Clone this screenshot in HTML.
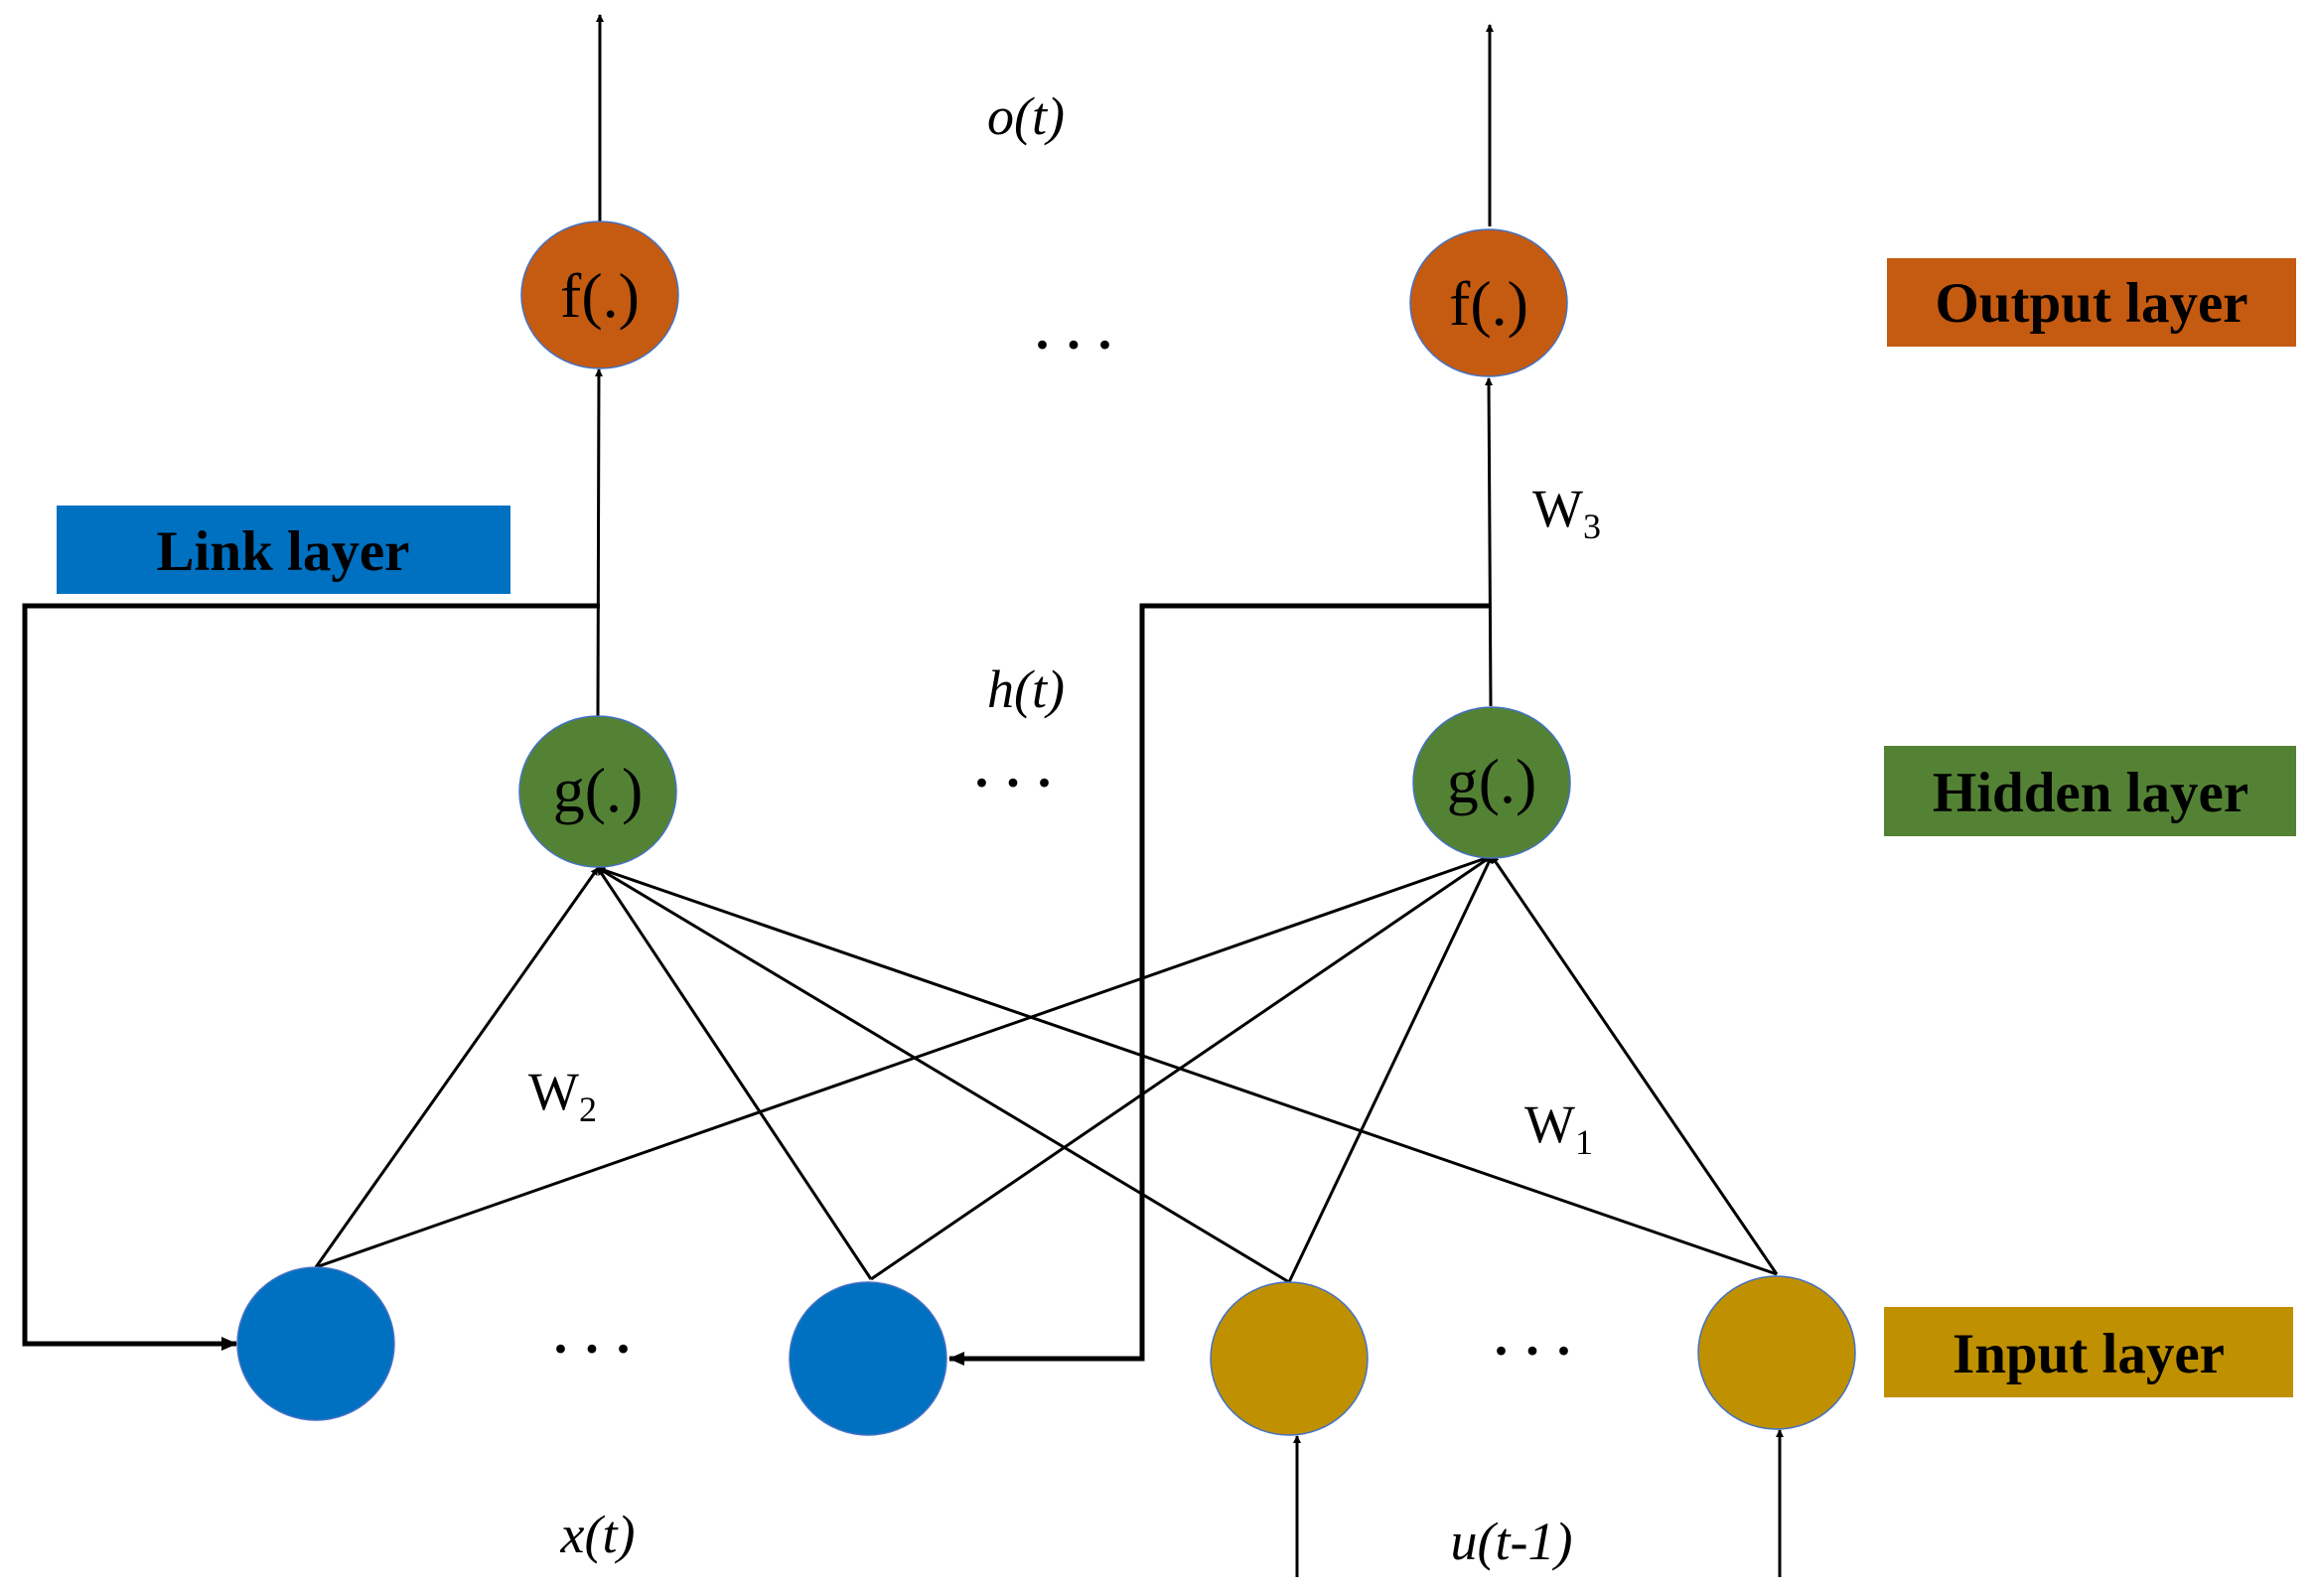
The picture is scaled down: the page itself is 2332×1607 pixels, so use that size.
<!DOCTYPE html>
<html><head><meta charset="utf-8"><style>
html,body{margin:0;padding:0;background:#fff}
svg{display:block}
text{font-family:"Liberation Serif",serif}
</style></head><body>
<svg width="2332" height="1607" viewBox="0 0 2332 1607" xmlns="http://www.w3.org/2000/svg">
<defs>
<marker id="a" markerWidth="8" markerHeight="8" refX="7" refY="4" orient="auto" markerUnits="userSpaceOnUse"><path d="M0,0 L8,4 L0,8 z" fill="#000"/></marker>
<marker id="b" markerWidth="16" markerHeight="14" refX="15" refY="7" orient="auto" markerUnits="userSpaceOnUse"><path d="M0,0 L16,7 L0,14 z" fill="#000"/></marker>
</defs>
<g stroke="#000" stroke-width="3" fill="none">
<line x1="604" y1="223" x2="604" y2="15" marker-end="url(#a)"/>
<line x1="1500" y1="228" x2="1500" y2="25" marker-end="url(#a)"/>
<line x1="602" y1="721" x2="603" y2="372" marker-end="url(#a)"/>
<line x1="1501" y1="711" x2="1499" y2="381" marker-end="url(#a)"/>
<line x1="318" y1="1276" x2="602" y2="874" marker-end="url(#a)"/>
<line x1="318" y1="1276" x2="1502" y2="862" marker-end="url(#a)"/>
<line x1="877" y1="1288" x2="602" y2="874" marker-end="url(#a)"/>
<line x1="877" y1="1288" x2="1502" y2="862" marker-end="url(#a)"/>
<line x1="1298" y1="1291" x2="602" y2="874" marker-end="url(#a)"/>
<line x1="1298" y1="1291" x2="1502" y2="862" marker-end="url(#a)"/>
<line x1="1789" y1="1283" x2="602" y2="874" marker-end="url(#a)"/>
<line x1="1789" y1="1283" x2="1502" y2="862" marker-end="url(#a)"/>
<polyline stroke-width="5" points="604,610 25,610 25,1353 238,1353" marker-end="url(#b)"/>
<polyline stroke-width="5" points="1500,610 1150,610 1150,1368 956,1368" marker-end="url(#b)"/>
<line x1="1306" y1="1588" x2="1306" y2="1446" marker-end="url(#a)"/>
<line x1="1792" y1="1588" x2="1792" y2="1440" marker-end="url(#a)"/>
</g>
<g stroke="#4472C4" stroke-width="1.5">
<ellipse cx="604" cy="297" rx="79" ry="74" fill="#C55A11"/>
<ellipse cx="1499" cy="305" rx="79" ry="74" fill="#C55A11"/>
<ellipse cx="602" cy="797" rx="79" ry="76" fill="#548235"/>
<ellipse cx="1502" cy="788" rx="79" ry="76" fill="#548235"/>
<ellipse cx="318" cy="1353" rx="79" ry="77" fill="#0070C0"/>
<ellipse cx="874" cy="1368" rx="79" ry="77" fill="#0070C0"/>
<ellipse cx="1298" cy="1368" rx="79" ry="77" fill="#BF9000"/>
<ellipse cx="1789" cy="1362" rx="79" ry="77" fill="#BF9000"/>
</g>
<g font-size="64" text-anchor="middle" fill="#000">
<text x="604" y="319">f(.)</text>
<text x="1499" y="327">f(.)</text>
<text x="602" y="817">g(.)</text>
<text x="1502" y="808">g(.)</text>
</g>
<rect x="1900" y="260" width="412" height="89" fill="#C55A11"/>
<rect x="57" y="509" width="457" height="89" fill="#0070C0"/>
<rect x="1897" y="751" width="415" height="91" fill="#548235"/>
<rect x="1897" y="1316" width="412" height="91" fill="#BF9000"/>
<g font-size="57" font-weight="bold" text-anchor="middle" fill="#000">
<text x="2106" y="324">Output layer</text>
<text x="285" y="574">Link layer</text>
<text x="2105" y="817">Hidden layer</text>
<text x="2103" y="1382">Input layer</text>
</g>
<g font-size="54" font-style="italic" text-anchor="middle" fill="#000">
<text x="1033" y="135">o(t)</text>
<text x="1033" y="712">h(t)</text>
<text x="602" y="1563">x(t)</text>
<text x="1522" y="1570">u(t-1)</text>
</g>
<g font-size="54" fill="#000">
<text x="1543" y="530">W<tspan font-size="36" dy="12">3</tspan></text>
<text x="532" y="1117">W<tspan font-size="36" dy="12">2</tspan></text>
<text x="1535" y="1150">W<tspan font-size="36" dy="12">1</tspan></text>
</g>
<g font-size="54" text-anchor="middle" fill="#000" font-weight="bold">
<text x="1081" y="365">· · ·</text>
<text x="1020" y="806">· · ·</text>
<text x="596" y="1376">· · ·</text>
<text x="1543" y="1378">· · ·</text>
</g>
</svg>
</body></html>
